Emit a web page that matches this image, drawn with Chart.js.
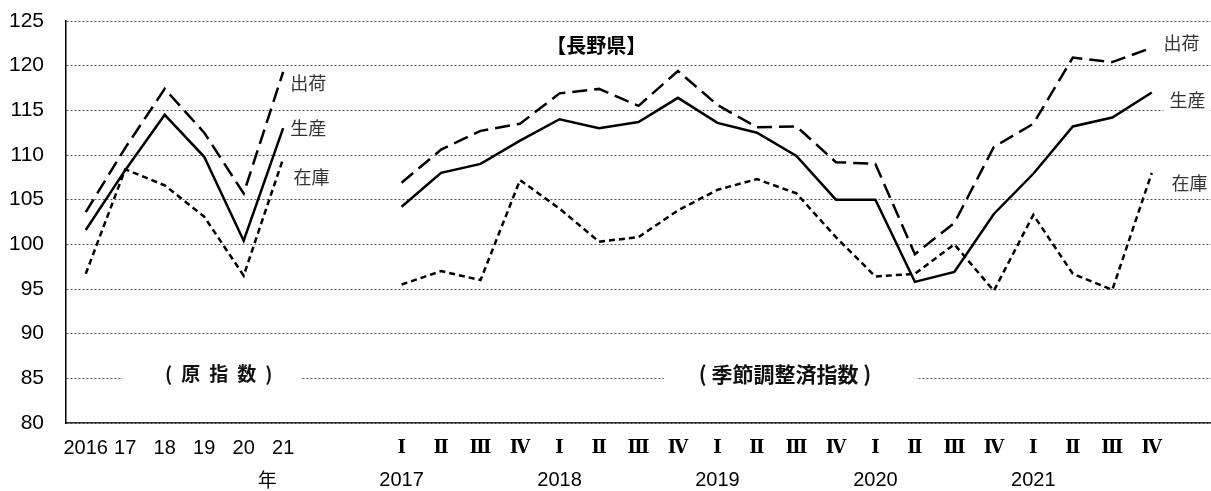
<!DOCTYPE html>
<html><head><meta charset="utf-8">
<script src="https://cdn.jsdelivr.net/npm/chart.js@4/dist/chart.umd.min.js"></script>
<style>html,body{margin:0;padding:0;background:#fff}#wrap{width:1211px;height:491px;position:relative}</style>
</head><body><div id="wrap"><canvas id="c"></canvas></div>
<script>
// ---- data ----
const categories = ['2016','17','18','19','20','21','','','Ⅰ','Ⅱ','Ⅲ','Ⅳ','Ⅰ','Ⅱ','Ⅲ','Ⅳ','Ⅰ','Ⅱ','Ⅲ','Ⅳ','Ⅰ','Ⅱ','Ⅲ','Ⅳ','Ⅰ','Ⅱ','Ⅲ','Ⅳ',''];
const yearLabels = ['','','','','','','','','2017','','','','2018','','','','2019','','','','2020','','','','2021','','','',''];
const yTicks = [80,85,90,95,100,105,110,115,120,125];
const seriesNames = ['生産','出荷','在庫'];
const prodAnnual = [101.6,108.3,114.5,109.8,100.4,113.0];
const prodQuarter = [104.2,108.0,109.0,111.6,114.0,113.0,113.7,116.4,113.6,112.5,109.9,105.0,105.0,95.8,96.9,103.4,107.9,113.2,114.2,117.0];
const shipAnnual = [103.6,110.8,117.4,112.5,105.7,119.3];
const shipQuarter = [106.9,110.6,112.7,113.5,116.9,117.4,115.5,119.4,115.6,113.1,113.2,109.2,109.0,98.9,102.4,110.9,113.5,120.9,120.4,122.0];
const invAnnual = [96.7,108.4,106.6,103.1,96.5,109.6];
const invQuarter = [95.5,97.0,96.0,107.2,104.0,100.3,100.8,103.8,106.1,107.3,105.7,100.8,96.4,96.7,100.0,94.8,103.3,96.7,94.9,108.0];
const titleText = '【長野県】';
const rawNote = '(原指数)';
const saNote = '( 季節調整済指数 )';
const yearUnit = '年';

const join = (a, q) => [...a, null, null, ...q, null];

const FONT = "'Liberation Sans', 'Noto Sans CJK JP', sans-serif";
const JP = "'Noto Sans CJK JP', sans-serif";
const ROMAN = "'DejaVu Serif', 'Noto Sans CJK JP', serif";
const PAD_X = 13;

function drawSpaced(ctx, text, cx, cy, gap) {
  const chars = [...text];
  const ws = chars.map(c => ctx.measureText(c).width);
  const total = ws.reduce((s, w) => s + w, 0) + gap * (chars.length - 1);
  let x = cx - total / 2;
  ctx.textAlign = 'left';
  chars.forEach((c, i) => { ctx.fillText(c, x, cy); x += ws[i] + gap; });
  return total;
}

const annot = {
  id: 'annot',
  beforeDatasetsDraw(chart) {
    const {ctx, scales: {x, y}} = chart;
    ctx.save();
    ctx.textBaseline = 'middle';
    // notes on the 85 line
    ctx.font = 'bold 19px ' + JP;
    let cx = x.getPixelForValue(3.37), cy = y.getPixelForValue(85.5);
    let w = [...rawNote].reduce((s, c) => s + ctx.measureText(c).width, 0) + 9 * ([...rawNote].length - 1);
    ctx.fillStyle = '#fff';
    ctx.fillRect(cx - w / 2 - 42, cy - 12, w + 70, 24);
    ctx.fillStyle = '#111';
    drawSpaced(ctx, rawNote, cx, cy, 9);

    ctx.font = 'bold 21px ' + JP;
    cx = x.getPixelForValue(17.71);
    w = ctx.measureText(saNote).width;
    ctx.fillStyle = '#fff';
    ctx.fillRect(cx - w / 2 - 35, cy - 14, w + 80, 28);
    ctx.fillStyle = '#111';
    ctx.textAlign = 'center';
    ctx.fillText(saNote, cx, cy);

    // title
    ctx.font = 'bold 20px ' + JP;
    ctx.fillStyle = '#000';
    ctx.fillText(titleText, x.getPixelForValue(12.93), y.getPixelForValue(122.3));

    // series labels
    ctx.font = '18px ' + JP;
    const labs = [
      [seriesNames[1], 5.18, 118.05], [seriesNames[0], 5.18, 113.0], [seriesNames[2], 5.26, 107.5],
      [seriesNames[1], 27.3, 122.5], [seriesNames[0], 27.45, 116.1], [seriesNames[2], 27.5, 106.8]
    ];
    labs.forEach(([t, xv, yv]) => {
      const px = x.getPixelForValue(xv), py = y.getPixelForValue(yv);
      const tw = ctx.measureText(t).width;
      ctx.fillStyle = '#fff';
      ctx.fillRect(px - 6, py - 12, tw + 10, 24);
      ctx.fillStyle = '#333';
      ctx.textAlign = 'left';
      ctx.fillText(t, px, py);
    });
    ctx.restore();
  },
  afterDraw(chart) {
    const {ctx, scales: {x}} = chart;
    ctx.save();
    ctx.fillStyle = '#000';
    ctx.textAlign = 'center';
    ctx.textBaseline = 'middle';
    const rowY = x.top + 57;
    ctx.font = '20px ' + FONT;
    yearLabels.forEach((t, i) => { if (t) ctx.fillText(t, x.getPixelForValue(i), rowY); });
    ctx.font = '19px ' + JP;
    ctx.fillText(yearUnit, x.getPixelForValue(4.6), rowY);
    ctx.restore();
  }
};

new Chart(document.getElementById('c'), {
  type: 'line',
  data: {
    labels: categories,
    datasets: [
      { label: seriesNames[0], data: join(prodAnnual, prodQuarter), borderColor: '#000', borderWidth: 2.5, pointRadius: 0, spanGaps: false, tension: 0 },
      { label: seriesNames[1], data: join(shipAnnual, shipQuarter), borderColor: '#000', borderWidth: 2.5, borderDash: [15, 7], pointRadius: 0, spanGaps: false, tension: 0 },
      { label: seriesNames[2], data: join(invAnnual, invQuarter), borderColor: '#000', borderWidth: 2.5, borderDash: [6, 4], pointRadius: 0, spanGaps: false, tension: 0 }
    ]
  },
  options: {
    responsive: true, maintainAspectRatio: false, animation: false,
    layout: { padding: { top: 21, right: 0, left: 0, bottom: 0 } },
    plugins: { legend: { display: false }, tooltip: { enabled: false } },
    scales: {
      x: {
        offset: true,
        grid: { display: false, drawTicks: false },
        border: { display: true, color: '#333', width: 1.5 },
        ticks: {
          autoSkip: false, maxRotation: 0, padding: PAD_X, color: '#000',
          font: c => c.index < 6 ? { family: FONT, size: 20, weight: 'normal', lineHeight: 1.2 } : { family: ROMAN, size: 18, weight: 'bold', lineHeight: 1.33 },
          callback: (v, i) => categories[i]
        },
        afterFit: s => { s.height = 68; }
      },
      y: {
        min: 80, max: 125,
        afterBuildTicks: s => { s.ticks = yTicks.map(v => ({ value: v })); },
        grid: { color: '#555', lineWidth: 1, drawTicks: false },
        border: { display: true, color: '#000', width: 1.5, dash: [2, 2] },
        ticks: { padding: 22, color: '#000', font: { family: FONT, size: 21 } },
        afterFit: s => { s.width = 66; s.paddingTop = 0; s.paddingBottom = 0; }
      }
    }
  },
  plugins: [annot]
});
</script>
</body></html>
